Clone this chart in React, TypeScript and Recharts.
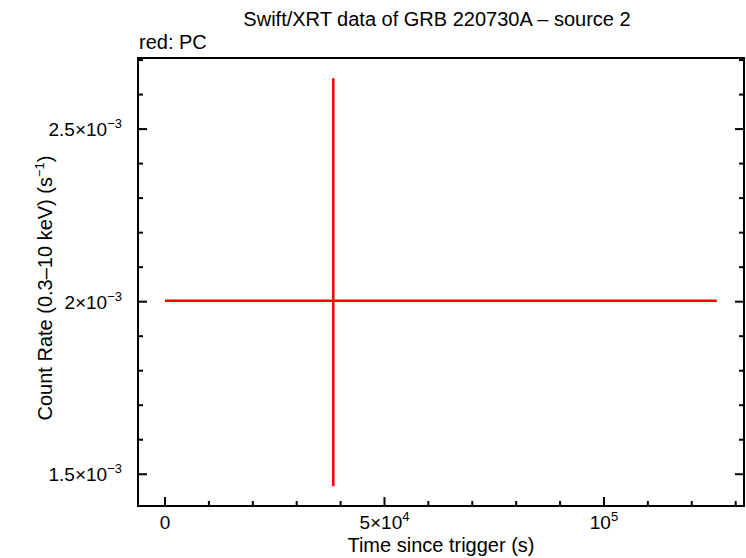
import { ScatterChart, Scatter, XAxis, YAxis, ErrorBar } from 'recharts';

// one PC-mode bin: centre, time range and rate range
const times = [38340];
const timeStart = [0];
const timeEnd = [125700];
const rates = [2.003e-3];
const rateLow = [1.465e-3];
const rateHigh = [2.647e-3];

const xDomain = [-6150, 131900];
const yDomain = [1.408e-3, 2.706e-3];

const xMajorTicks = [0, 50000, 100000];
const xMinorTicks = [10000, 20000, 30000, 40000, 60000, 70000, 80000, 90000, 110000, 120000, 130000];
const xTickLabels = [['0', ''], ['5×10', '4'], ['10', '5']];

const yMajorTicks = [1.5e-3, 2e-3, 2.5e-3];
const yMinorTicks = [1.6e-3, 1.7e-3, 1.8e-3, 1.9e-3, 2.1e-3, 2.2e-3, 2.3e-3, 2.4e-3, 2.6e-3, 2.7e-3];
const yTickLabels = [['1.5×10', '−3'], ['2×10', '−3'], ['2.5×10', '−3']];

const points = times.map((t, i) => ({
  time: t,
  rate: rates[i],
  timeErr: [t - timeStart[i], timeEnd[i] - t],
  rateErr: [rates[i] - rateLow[i], rateHigh[i] - rates[i]],
}));

const allX = [...xMajorTicks, ...xMinorTicks].sort((a, b) => a - b);
const allY = [...yMajorTicks, ...yMinorTicks].sort((a, b) => a - b);

const FONT = '"Liberation Sans", Arial, Helvetica, sans-serif';
const MAJOR = 9;
const MINOR = 5;

function majorIndex(v: number, majors: number[]) {
  return majors.findIndex((m) => Math.abs(m - v) <= Math.abs(m) * 1e-6 + 1e-12);
}

function TickText({ x, y, anchor, label }: { x: number; y: number; anchor: string; label: string[] }) {
  return (
    <text x={x} y={y} textAnchor={anchor} fontSize={19} fontFamily={FONT} fill="#000">
      {label[0]}
      {label[1] && (
        <tspan dy={-8} fontSize={13}>
          {label[1]}
        </tspan>
      )}
    </text>
  );
}

const BottomTick = (props: any) => {
  const { x, y, payload } = props;
  const i = majorIndex(payload.value, xMajorTicks);
  return (
    <g>
      <line x1={x} y1={y} x2={x} y2={y - (i >= 0 ? MAJOR : MINOR)} stroke="#000" strokeWidth={2} />
      {i >= 0 && <TickText x={x} y={y + 23} anchor="middle" label={xTickLabels[i]} />}
    </g>
  );
};

const TopTick = (props: any) => {
  const { x, y, payload } = props;
  const i = majorIndex(payload.value, xMajorTicks);
  return <line x1={x} y1={y} x2={x} y2={y + (i >= 0 ? MAJOR : MINOR)} stroke="#000" strokeWidth={2} />;
};

const LeftTick = (props: any) => {
  const { x, y, payload } = props;
  const i = majorIndex(payload.value, yMajorTicks);
  return (
    <g>
      <line x1={x} y1={y} x2={x + (i >= 0 ? MAJOR : MINOR)} y2={y} stroke="#000" strokeWidth={2} />
      {i >= 0 && <TickText x={x - 16} y={y + 7} anchor="end" label={yTickLabels[i]} />}
    </g>
  );
};

const RightTick = (props: any) => {
  const { x, y, payload } = props;
  const i = majorIndex(payload.value, yMajorTicks);
  return <line x1={x} y1={y} x2={x - (i >= 0 ? MAJOR : MINOR)} y2={y} stroke="#000" strokeWidth={2} />;
};

const renderXLabel = (props: any) => {
  const vb = props.viewBox;
  return (
    <text x={vb.x + vb.width / 2} y={vb.y + 46} textAnchor="middle" fontSize={20} fontFamily={FONT} fill="#000">
      Time since trigger (s)
    </text>
  );
};

const renderYLabel = (props: any) => {
  const vb = props.viewBox;
  const cx = vb.x + 52;
  const cy = vb.y + vb.height / 2 + 6;
  return (
    <text
      x={cx}
      y={cy}
      transform={`rotate(-90 ${cx} ${cy})`}
      textAnchor="middle"
      fontSize={20}
      fontFamily={FONT}
      fill="#000"
    >
      Count Rate (0.3–10 keV) (s
      <tspan dy={-8} fontSize={13}>
        −1
      </tspan>
      <tspan dy={8}>)</tspan>
    </text>
  );
};

const frame = { stroke: '#000', strokeWidth: 2, strokeLinecap: 'square' as const };

export default function App() {
  return (
    <div style={{ position: 'absolute', left: 0, top: 0, width: 746, height: 558, background: '#fff' }}>
      <ScatterChart width={746} height={558} margin={{ top: 57, right: 0, bottom: 0, left: 0 }}>
        <XAxis
          dataKey="time"
          type="number"
          domain={xDomain}
          allowDataOverflow
          ticks={allX}
          interval={0}
          height={52}
          tick={BottomTick}
          tickLine={false}
          tickSize={0}
          tickMargin={0}
          axisLine={frame}
          label={renderXLabel}
        />
        <XAxis
          xAxisId="top"
          orientation="top"
          type="number"
          domain={xDomain}
          allowDataOverflow
          ticks={allX}
          interval={0}
          height={1}
          tick={TopTick}
          tickLine={false}
          tickSize={0}
          tickMargin={0}
          axisLine={frame}
        />
        <YAxis
          dataKey="rate"
          type="number"
          domain={yDomain}
          allowDataOverflow
          ticks={allY}
          interval={0}
          width={138}
          tick={LeftTick}
          tickLine={false}
          tickSize={0}
          tickMargin={0}
          axisLine={frame}
          label={renderYLabel}
        />
        <YAxis
          yAxisId="right"
          orientation="right"
          type="number"
          domain={yDomain}
          allowDataOverflow
          ticks={allY}
          interval={0}
          width={2}
          tick={RightTick}
          tickLine={false}
          tickSize={0}
          tickMargin={0}
          axisLine={frame}
        />
        <Scatter data={points} dataKey="rate" isAnimationActive={false} shape={() => <g />}>
          <ErrorBar dataKey="rateErr" direction="y" width={0} stroke="#ff0000" strokeWidth={2.5} isAnimationActive={false} />
          <ErrorBar dataKey="timeErr" direction="x" width={0} stroke="#ff0000" strokeWidth={2.5} isAnimationActive={false} />
        </Scatter>
      </ScatterChart>
      <svg width={746} height={558} style={{ position: 'absolute', left: 0, top: 0, pointerEvents: 'none' }}>
        <text x={437} y={26} textAnchor="middle" fontSize={20} fontFamily={FONT} fill="#000">
          Swift/XRT data of GRB 220730A – source 2
        </text>
        <text x={139} y={49} fontSize={20} fontFamily={FONT} fill="#000">
          red: PC
        </text>
      </svg>
    </div>
  );
}
